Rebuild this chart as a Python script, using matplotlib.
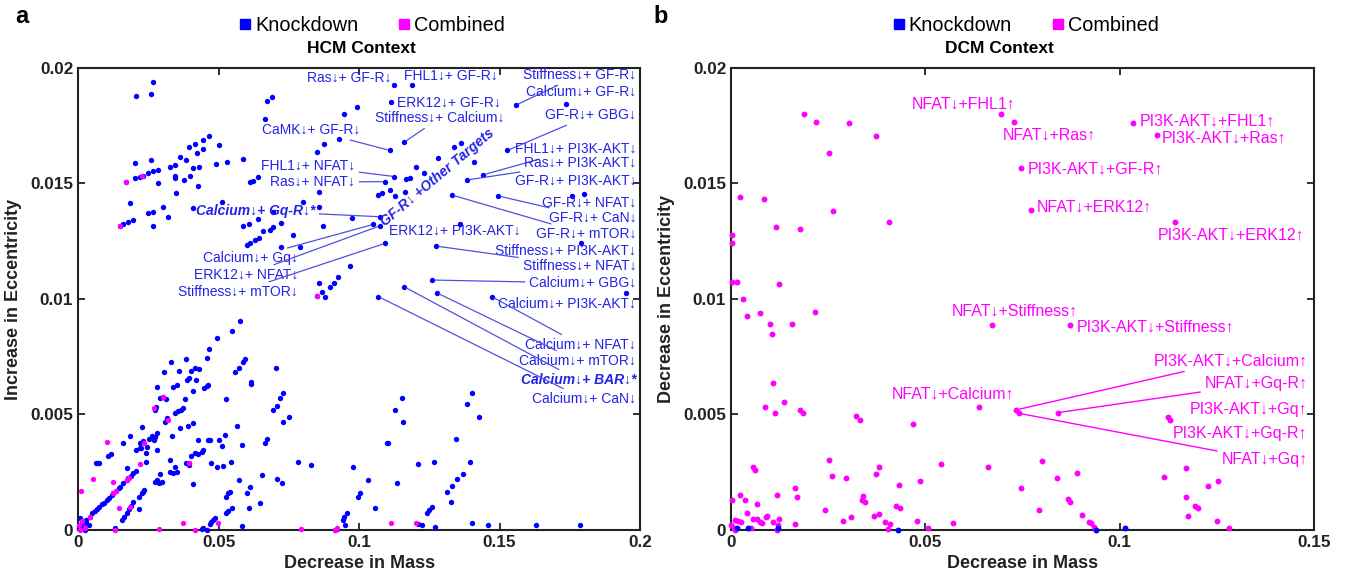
import numpy as np
import matplotlib
matplotlib.use("Agg")
import matplotlib.pyplot as plt
from matplotlib.ticker import FuncFormatter
from matplotlib.lines import Line2D

plt.rcParams['font.family'] = ['Liberation Sans', 'DejaVu Sans']

BLUE = '#0000ff'
MAGENTA = '#ff00ff'
TXT_BLUE = '#2323e8'
LINE_BLUE = '#5050e0'

# =========================
# DATA (Decrease in Mass, change in Eccentricity)
# =========================

hcm_knockdown = np.array([
    (.0206, .01879), (.0266, .01938), (.0260, .01886), (.0671, .01858), (.0691, .01876), (.0664, .01778),
    (.0946, .0180), (.0992, .01833), (.0930, .01693), (.0875, .01671), (.0849, .01635), (.1110, .01643),
    (.0203, .0159), (.0259, .0160), (.0170, .01508), (.0203, .01522), (.0221, .0153), (.0232, .01534),
    (.0250, .01545), (.0268, .01552), (.0286, .01558), (.0286, .01504), (.0185, .01417), (.0161, .01323),
    (.0179, .01332), (.0195, .01342), (.0149, .01317), (.0250, .01371), (.0266, .01378), (.0266, .01316),
    (.0304, .0140), (.0321, .01354), (.0327, .01573), (.0345, .01579), (.0363, .01616), (.0384, .0160),
    (.0393, .01657), (.0416, .01671), (.0422, .01633), (.0446, .01688), (.0467, .01706), (.0446, .0165),
    (.0408, .01566), (.0432, .0157), (.0345, .01532), (.0345, .01522), (.0377, .01515), (.0399, .01532),
    (.0428, .0149), (.0349, .01458), (.0503, .01665), (.0491, .01583), (.0529, .01592), (.0588, .01606),
    (.0612, .01506), (.0624, .01512), (.0642, .0153), (.0511, .01421), (.0410, .01392), (.0588, .01317),
    (.0610, .01323), (.0642, .01345), (.0683, .01299), (.0695, .01313), (.0722, .0133), (.0695, .01378),
    (.0600, .01234), (.0612, .01241), (.0630, .01255), (.0644, .01263), (.0659, .01294), (.0722, .01227),
    (.0766, .01275), (.0788, .01227), (.0802, .01421), (.0858, .01462), (.0873, .01317), (.0974, .01349),
    (.1075, .01356), (.1051, .01323), (.1075, .01317), (.1093, .01241), (.1069, .0145), (.1081, .01458),
    (.1110, .01472), (.1093, .01508), (.0968, .01144), (.0852, .01014), (.0867, .01029), (.0879, .01007),
    (.0897, .01053), (.0909, .01068), (.0926, .01097), (.0859, .01071), (.1069, .0101), (.0577, .00906),
    (.0549, .00863), (.0494, .0083), (.0859, .0140),
    (.1125, .01926), (.1187, .01926), (.1114, .01851), (.1558, .01839), (.1736, .01845), (.1160, .01678),
    (.1336, .01658), (.1363, .01675), (.1282, .01612), (.1410, .01592), (.1528, .01643), (.1203, .0157),
    (.1231, .01544), (.1126, .0153), (.1167, .01518), (.1181, .01522), (.1128, .01446), (.1164, .01465),
    (.1383, .01515), (.1440, .01537), (.1330, .0145), (.1496, .01446), (.1757, .01446), (.1802, .01453),
    (.1359, .01325), (.1274, .01229), (.1790, .01244),
    (.1259, .01082), (.1160, .01053), (.1276, .01027), (.1472, .0101), (.1950, .01027), (.1152, .0057),
    (.1128, .0052), (.1155, .00469), (.1401, .00592), (.1383, .00544), (.1427, .00488), (.1099, .00375),
    (.1345, .00394),
    (.0467, .00784), (.0458, .00746), (.0594, .0074), (.0588, .00729), (.0574, .007), (.0559, .00685),
    (.0705, .0070), (.0615, .00642), (.0615, .00631), (.0331, .00729), (.0383, .0074), (.0360, .0069),
    (.0402, .0069), (.0416, .00703), (.0432, .00697), (.0306, .00685), (.0280, .0062), (.0292, .0057),
    (.0301, .00577), (.0313, .00567), (.0339, .0062), (.0351, .00628), (.0387, .00649), (.0393, .00657),
    (.0420, .00649), (.0448, .00613), (.0458, .00623), (.0464, .00628), (.0408, .0060), (.0381, .00567),
    (.0272, .0052), (.0276, .00534), (.0375, .00527), (.0365, .0052), (.0357, .00513), (.0345, .00505),
    (.0318, .00484), (.0310, .00469), (.0254, .00394), (.0264, .00408), (.0232, .00386), (.0221, .00377),
    (.0224, .00355), (.0227, .00447), (.0185, .00407), (.0161, .00378), (.0108, .0032), (.0117, .0033),
    (.0063, .00289), (.0070, .00291), (.0076, .00291), (.0206, .00346), (.0221, .00354),
    (.0010, .00026), (.0019, .00036), (.0028, .00043), (.0043, .00058), (.0051, .00072), (.0060, .00084),
    (.0066, .0009), (.0076, .00101), (.0084, .00111), (.0094, .00118), (.0102, .0013), (.0111, .00137),
    (.0120, .00152), (.0126, .00159), (.0135, .00169), (.0144, .00181), (.0149, .00188), (.0161, .00205),
    (.0173, .00216), (.0179, .00224), (.0189, .00234), (.0197, .00245), (.0206, .00257),
    (.0132, .00007), (.0155, .00043), (.0164, .00058), (.0173, .00072), (.0181, .00091), (.0189, .00105),
    (.0197, .0012), (.0218, .00144), (.0227, .00159), (.0232, .00166), (.0236, .00173), (.0242, .00296),
    (.0274, .00209), (.0282, .00216), (.0289, .00205), (.0298, .00209),
    (.0217, .0009), (.0173, .00267), (.0242, .00332), (.0244, .00361), (.0270, .0039), (.0274, .00404),
    (.0280, .00419), (.0280, .00346), (.0292, .00242), (.0327, .00303), (.0333, .00407), (.0351, .00252),
    (.0339, .00245), (.0327, .0025), (.0345, .00274), (.0363, .0044), (.0390, .0045), (.0408, .00465),
    (.0384, .00289), (.0393, .00291), (.0396, .00281), (.0410, .00198), (.0401, .0032), (.0416, .00332),
    (.0428, .00328), (.0440, .00339), (.0446, .00346), (.0426, .0039), (.0462, .0039), (.0470, .0039),
    (.0473, .00289), (.0496, .00274), (.0515, .00277), (.0503, .0039), (.0511, .00365), (.0523, .00411),
    (.0526, .00567), (.0565, .0045), (.0583, .00368), (.0543, .00293), (.0571, .00216), (.0541, .00166),
    (.0527, .00142), (.0535, .00159), (.0547, .00094), (.0535, .00082), (.0527, .00072), (.0487, .00054),
    (.0480, .00043), (.0474, .00033), (.0469, .00026), (.0446, .0001), (.0440, .00003), (.0459, .0),
    (.0583, .00017), (.0600, .00161), (.0612, .00188), (.0609, .00094), (.0648, .00118), (.0654, .00238),
    (.0665, .00378), (.0671, .00393), (.0695, .0052), (.0707, .00537), (.0719, .00573), (.0731, .00592),
    (.0728, .00469), (.0752, .00488), (.0707, .00219), (.0725, .00205), (.0784, .00296), (.0828, .00281),
    (.0978, .00271), (.1033, .00216), (.1004, .00161), (.0995, .00142), (.1055, .00094), (.1102, .00378),
    (.0956, .00072), (.0948, .00058), (.0942, .00043), (.0950, .00022), (.0920, .00005), (.0915, .0),
    (.1211, .00284), (.1266, .00293), (.1134, .00205), (.1395, .00296), (.1368, .00241), (.1348, .00221),
    (.1330, .0019), (.1312, .00166), (.1326, .0012), (.1259, .00098), (.1250, .00087), (.1241, .00072),
    (.1211, .00026), (.1223, .00022), (.1270, .00014), (.1403, .00029), (.1460, .00022), (.1629, .00022),
    (.1786, .00022),
    (.0005, .0001), (.0012, .0002), (.0020, .0001), (.0030, .0003), (.0008, .0005), (.0025, .0), (.0040, .0002),
])

hcm_combined = np.array([
    (.0170, .01508), (.0227, .01532), (.0149, .01317), (.0852, .01014), (.0301, .00577), (.0271, .00526),
    (.0321, .00476), (.0236, .00377), (.0102, .00382), (.0054, .00221), (.0394, .00288), (.0010, .0017),
    (.0147, .00094), (.0185, .00101), (.0126, .00209), (.0221, .00286), (.0289, .00003), (.0375, .00032),
    (.0416, .0), (.0499, .00032), (.0794, .00003), (.0920, .0001), (.0131, .0), (.1114, .00032),
    (.1203, .00032), (.0915, .0), (.0005, .0002), (.0015, .0004), (.0025, .0001), (.0008, .0),
    (.0126, .00161), (.0135, .0017), (.0173, .00216), (.0183, .00224), (.0043, .00058),
])

dcm_combined = np.array([
    (.0694, .01801), (.0728, .01766), (.1033, .01762), (.1095, .0171), (.0746, .01567), (.0771, .01385),
    (.1141, .01333), (.0671, .00887), (.0871, .00887), (.0638, .00531), (.0734, .0052), (.0741, .00505),
    (.0841, .00508), (.1124, .0049), (.1130, .00476),
    (.0188, .01801), (.0219, .01765), (.0304, .0176), (.0372, .01707), (.0252, .01633), (.0023, .01443),
    (.0085, .01433), (.0263, .01382), (.0406, .01332), (.0115, .0131), (.0177, .01302), (.0002, .01277),
    (.0003, .01241), (.0002, .01072), (.0016, .01072), (.0124, .01064), (.0030, .00999), (.0042, .00928),
    (.0075, .00938), (.0100, .0089), (.0105, .00848), (.0156, .0089), (.0216, .00942),
    (.0109, .00635), (.0087, .00531), (.0113, .00505), (.0136, .00553), (.0177, .0052), (.0186, .00505),
    (.0321, .00494), (.0332, .00476), (.0469, .00458), (.0660, .00271), (.0540, .00284), (.0486, .00213),
    (.0433, .00193), (.0380, .00271), (.0372, .00242), (.0253, .00303), (.0261, .00234), (.0296, .00227),
    (.0340, .00149), (.0344, .0012), (.0336, .0013), (.0243, .00087), (.0287, .00039), (.0308, .00055),
    (.0368, .00062), (.0380, .00068), (.0424, .00105), (.0435, .00097), (.0396, .00033), (.0409, .00025),
    (.0404, .00004), (.0479, .00039), (.0570, .00029), (.0507, .0001), (.0057, .00274), (.0062, .0026),
    (.0165, .0018), (.0169, .00144), (.0117, .00152), (.0165, .00026), (.0124, .00046), (.0109, .00033),
    (.0002, .0013), (.0023, .00152), (.0036, .0013), (.0066, .00113), (.0040, .00075), (.0056, .00046),
    (.0066, .00046), (.0075, .00036), (.0079, .00029), (.0093, .00061), (.0090, .00055), (.0010, .00043),
    (.0019, .0004), (.0026, .00033), (.0000, .0002), (.0008, .0001), (.0010, .0), (.0052, .0001),
    (.0121, .0002), (.0118, .0),
    (.0799, .0030), (.0839, .00227), (.0890, .00245), (.0747, .0018), (.0793, .00087), (.0867, .00133),
    (.0873, .00123), (.0904, .00065), (.0921, .00036), (.0927, .00029), (.0933, .00014), (.1113, .00231),
    (.1171, .00267), (.1227, .0019), (.1253, .00212), (.1171, .00144), (.1193, .00104), (.1201, .00094),
    (.1176, .00061), (.1251, .00039), (.1280, .0001),
])

dcm_knockdown = np.array([
    (.0044, .0001), (.0121, .0001), (.0429, .0), (.0938, .0), (.1013, .0001), (.0015, .0001),
])

# labels: text, text x, text y, alignment, target point (or None), emphasised
hcm_labels = [
    ("Ras↓+ GF-R↓", .1117, .01957, "right", None, False),
    ("FHL1↓+ GF-R↓", .1160, .01965, "left", None, False),
    ("Stiffness↓+ GF-R↓", .1986, .0197, "right", (.1558, .01839), False),
    ("Calcium↓+ GF-R↓", .1986, .01896, "right", None, False),
    ("ERK12↓+ GF-R↓", .1135, .01848, "left", None, False),
    ("Stiffness↓+ Calcium↓", .1057, .01784, "left", (.1160, .01678), False),
    ("GF-R↓+ GBG↓", .1986, .01797, "right", (.1528, .01643), False),
    ("CaMK↓+ GF-R↓", .0655, .01732, "left", (.1110, .01643), False),
    ("FHL1↓+ PI3K-AKT↓", .1986, .01649, "right", (.1440, .01537), False),
    ("FHL1↓+ NFAT↓", .0986, .01576, "right", (.1126, .0153), False),
    ("Ras↓+ PI3K-AKT↓", .1986, .01589, "right", (.1383, .01515), False),
    ("Ras↓+ NFAT↓", .0986, .01506, "right", (.1093, .01508), False),
    ("GF-R↓+ PI3K-AKT↓", .1986, .01511, "right", None, False),
    ("Calcium↓+ Gq-R↓*", .0843, .01381, "right", (.1075, .01356), True),
    ("GF-R↓+ NFAT↓", .1986, .01416, "right", None, False),
    ("GF-R↓+ CaN↓", .1986, .01351, "right", (.1496, .01446), False),
    ("ERK12↓+ PI3K-AKT↓", .1107, .01294, "left", None, False),
    ("GF-R↓+ mTOR↓", .1986, .01281, "right", (.1330, .0145), False),
    ("Stiffness↓+ PI3K-AKT↓", .1986, .01208, "right", None, False),
    ("Calcium↓+ Gq↓", .0783, .01177, "right", (.1051, .01323), False),
    ("Stiffness↓+ NFAT↓", .1986, .01143, "right", (.1274, .01229), False),
    ("ERK12↓+ NFAT↓", .0783, .01104, "right", (.1075, .01317), False),
    ("Calcium↓+ GBG↓", .1986, .01069, "right", (.1259, .01082), False),
    ("Stiffness↓+ mTOR↓", .0783, .0103, "right", (.1093, .01241), False),
    ("Calcium↓+ PI3K-AKT↓", .1986, .00978, "right", None, False),
    ("Calcium↓+ NFAT↓", .1986, .00801, "right", (.1472, .0101), False),
    ("Calcium↓+ mTOR↓", .1986, .00732, "right", (.1276, .01027), False),
    ("Calcium↓+ BAR↓*", .1986, .00649, "right", (.1160, .01053), True),
    ("Calcium↓+ CaN↓", .1986, .00567, "right", (.1069, .0101), False),
]

dcm_labels = [
    ("NFAT↓+FHL1↑", .0465, .01844, "left", None),
    ("NFAT↓+Ras↑", .0699, .0171, "left", None),
    ("PI3K-AKT↓+FHL1↑", .1051, .01771, "left", None),
    ("PI3K-AKT↓+Ras↑", .1108, .01697, "left", None),
    ("PI3K-AKT↓+GF-R↑", .0763, .01563, "left", None),
    ("NFAT↓+ERK12↑", .0787, .01398, "left", None),
    ("PI3K-AKT↓+ERK12↑", .1098, .01277, "left", None),
    ("NFAT↓+Stiffness↑", .0568, .00948, "left", None),
    ("PI3K-AKT↓+Stiffness↑", .0889, .00879, "left", None),
    ("PI3K-AKT↓+Calcium↑", .1483, .00732, "right", (.0734, .0052)),
    ("NFAT↓+Gq-R↑", .1483, .00632, "right", (.0841, .00508)),
    ("NFAT↓+Calcium↑", .0414, .00589, "left", None),
    ("PI3K-AKT↓+Gq↑", .1483, .0052, "right", None),
    ("PI3K-AKT↓+Gq-R↑", .1483, .00416, "right", None),
    ("NFAT↓+Gq↑", .1483, .00303, "right", (.0741, .00505)),
]

# =========================
# FIGURE
# =========================

fig = plt.figure(figsize=(13.53, 5.86), dpi=100)
ax1 = fig.add_axes([0.0577, 0.0956, 0.4154, 0.7884])
ax2 = fig.add_axes([0.5403, 0.0956, 0.4309, 0.7884])

fmt = FuncFormatter(lambda v, _: f"{v:g}")


def style_axes(ax, xmax, xticks):
    ax.set_xlim(0, xmax)
    ax.set_ylim(0, 0.02)
    ax.set_xticks(xticks)
    ax.set_yticks([0, 0.005, 0.01, 0.015, 0.02])
    ax.xaxis.set_major_formatter(fmt)
    ax.yaxis.set_major_formatter(fmt)
    ax.tick_params(direction="in", top=True, right=True, length=5, width=1.3,
                   labelsize=12.3, colors="#222222")
    for lab in ax.get_xticklabels() + ax.get_yticklabels():
        lab.set_fontweight("bold")
    for sp in ax.spines.values():
        sp.set_linewidth(1.5)
        sp.set_color("#222222")


style_axes(ax1, 0.2, [0, 0.05, 0.1, 0.15, 0.2])
style_axes(ax2, 0.15, [0, 0.05, 0.1, 0.15])

ax1.scatter(hcm_knockdown[:, 0], hcm_knockdown[:, 1], s=15, color=BLUE, lw=0, clip_on=False, zorder=3)
ax1.scatter(hcm_combined[:, 0], hcm_combined[:, 1], s=15, color=MAGENTA, lw=0, clip_on=False, zorder=4)

ax2.scatter(dcm_combined[:, 0], dcm_combined[:, 1], s=18, color=MAGENTA, lw=0, clip_on=False, zorder=3)
ax2.scatter(dcm_knockdown[:, 0], dcm_knockdown[:, 1], s=18, color=BLUE, lw=0, clip_on=False, zorder=4)

for text, tx, ty, ha, target, emph in hcm_labels:
    kw = dict(fontsize=10, color=TXT_BLUE, ha=ha, va="center", zorder=5)
    if emph:
        kw.update(fontweight="bold", style="italic")
    if target is None:
        ax1.text(tx, ty, text, **kw)
    else:
        ax1.annotate(text, xy=target, xytext=(tx, ty),
                     arrowprops=dict(arrowstyle="-", color=LINE_BLUE, lw=0.9,
                                     shrinkA=1, shrinkB=2), **kw)

ax1.text(.1278, .01524, "GF-R↓ +Other Targets", rotation=40, fontsize=10,
         fontweight="bold", style="italic", color=TXT_BLUE, ha="center", va="center", zorder=5)

for text, tx, ty, ha, target in dcm_labels:
    kw = dict(fontsize=11.5, color=MAGENTA, ha=ha, va="center", zorder=5)
    if target is None:
        ax2.text(tx, ty, text, **kw)
    else:
        ax2.annotate(text, xy=target, xytext=(tx, ty),
                     arrowprops=dict(arrowstyle="-", color=MAGENTA, lw=1.0,
                                     shrinkA=1, shrinkB=2), **kw)

# axis labels
for ax, ylab in [(ax1, "Increase in Eccentricity"), (ax2, "Decrease in Eccentricity")]:
    ax.set_xlabel("Decrease in Mass", fontsize=13, fontweight="bold", labelpad=4, color="#222222")
    ax.set_ylabel(ylab, fontsize=13, fontweight="bold", labelpad=6, color="#222222")

# titles and legends
fig.text(0.267, 0.918, "HCM Context", fontsize=12.5, fontweight="bold", ha="center", va="center")
fig.text(0.739, 0.918, "DCM Context", fontsize=12.5, fontweight="bold", ha="center", va="center")

handles = [
    Line2D([], [], marker="s", ls="", color=BLUE, markersize=7.5, label="Knockdown"),
    Line2D([], [], marker="s", ls="", color=MAGENTA, markersize=7.5, label="Combined"),
]
for cx in (0.275, 0.758):
    fig.legend(handles=handles, loc="center", bbox_to_anchor=(cx, 0.957), ncol=2,
               frameon=False, fontsize=14.3, handlelength=0.6, handletextpad=0.2,
               columnspacing=2.0)

fig.text(0.011, 0.972, "a", fontsize=17, fontweight="bold", va="center")
fig.text(0.483, 0.972, "b", fontsize=17, fontweight="bold", va="center")

fig.savefig("out.png", dpi=100)
